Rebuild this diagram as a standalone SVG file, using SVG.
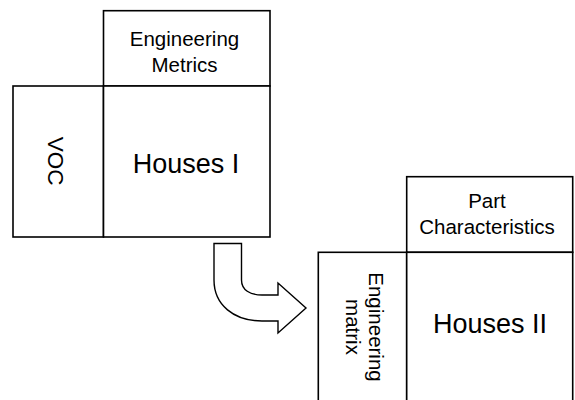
<svg xmlns="http://www.w3.org/2000/svg" width="575" height="400" viewBox="0 0 575 400">
  <style>
    .box { fill: #ffffff; stroke: #000000; stroke-width: 1.6; }
    .lbl { font-family: "Liberation Sans", Arial, sans-serif; fill: #000000; text-anchor: middle; }
    .small { font-size: 20.5px; }
    .big { font-size: 27px; }
    .arrow { fill: #ffffff; stroke: #000000; stroke-width: 1.4; stroke-linejoin: miter; }
  </style>
  <rect width="575" height="400" fill="#ffffff"/>

  <!-- First house -->
  <g id="eng-metrics">
    <rect class="box" x="103.5" y="10.7" width="166.5" height="75.3"/>
    <text class="lbl small" x="184.5" y="46">Engineering</text>
    <text class="lbl small" x="184.5" y="71.7">Metrics</text>
  </g>
  <g id="voc">
    <rect class="box" x="13" y="86" width="90.5" height="151"/>
    <text class="lbl" font-size="22.5" transform="translate(47.5,161) rotate(90)" x="0" y="0">VOC</text>
  </g>
  <g id="houses-1">
    <rect class="box" x="103.5" y="86" width="166.5" height="151"/>
    <text class="lbl big" x="186" y="173.3">Houses I</text>
  </g>

  <!-- Second house -->
  <g id="part-char">
    <rect class="box" x="406.7" y="176.7" width="166" height="75.6"/>
    <text class="lbl small" x="487" y="207.7">Part</text>
    <text class="lbl small" x="487" y="234.3">Characteristics</text>
  </g>
  <g id="eng-matrix">
    <rect class="box" x="318.3" y="252.3" width="88.4" height="152"/>
    <g transform="translate(0,327) rotate(90)">
      <text class="lbl small" x="0" y="-369">Engineering</text>
      <text class="lbl small" x="0" y="-345.5">matrix</text>
    </g>
  </g>
  <g id="houses-2">
    <rect class="box" x="406.7" y="252.3" width="166" height="152"/>
    <text class="lbl big" x="490" y="332.7">Houses II</text>
  </g>

  <!-- Bent block arrow from house I to house II -->
  <g id="connectors">
    <path class="arrow" d="M214,243.5 H241.5 V280 C241.5,290 250,295 262,295 H278 V283 L306,308 L278,333 V321 H262 C234,321 214,305 214,280 Z"/>
  </g>
</svg>
